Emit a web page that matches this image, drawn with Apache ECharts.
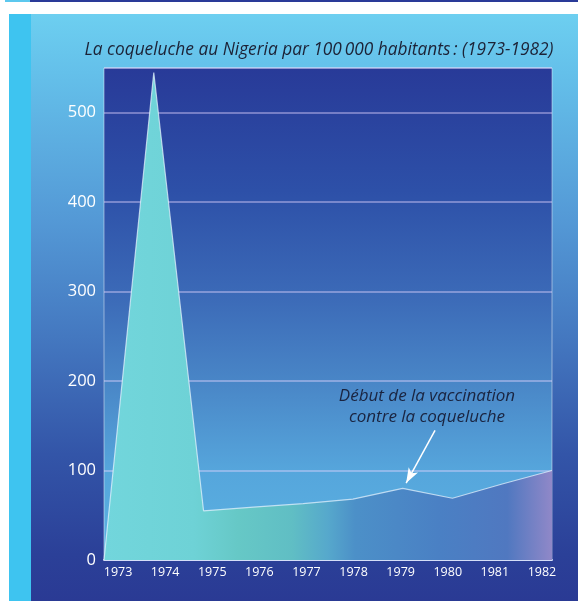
<!DOCTYPE html>
<html>
<head>
<meta charset="utf-8">
<script src="https://cdn.jsdelivr.net/npm/echarts@6/dist/echarts.min.js"></script>
<style>
html,body{margin:0;padding:0;background:#fff;}
#chart{width:578px;height:601px;}
</style>
</head>
<body>
<div id="chart"></div>
<script>
// ---- data ----
const years = [1973, 1974, 1975, 1976, 1977, 1978, 1979, 1980, 1981, 1982];
const cases = [0, 545, 55, 59, 63, 68, 80, 69, 85, 100];
const yTicks = [0, 100, 200, 300, 400, 500];
const titleText = 'La coqueluche au Nigeria par 100\u2009000 habitants\u2009: (1973-1982)';
const noteText = 'Début de la vaccination\ncontre la coqueluche';
// arrow of the note, in data units [year, value]
const arrowFrom = [1979.65, 145];
const arrowTo = [1979.07, 86];

const seriesData = years.map((y, i) => [y, cases[i]]);

const chart = echarts.init(document.getElementById('chart'), null, {renderer: 'canvas'});

const option = {
  backgroundColor: '#ffffff',
  animation: false,
  graphic: [
    {type: 'rect', shape: {x: 5, y: 0, width: 25, height: 2}, style: {fill: '#5cc8ee'}, z: -10},
    {type: 'rect', shape: {x: 30, y: 0, width: 548, height: 2}, style: {fill: '#2a3a98'}, z: -10},
    {type: 'rect', shape: {x: 9, y: 14, width: 569, height: 587}, z: -10,
      style: {fill: new echarts.graphic.LinearGradient(0, 0, 0, 1, [
        {offset: 0, color: '#6dcff0'},
        {offset: 0.1, color: '#64c0ea'},
        {offset: 0.35, color: '#5499d6'},
        {offset: 0.55, color: '#4478c0'},
        {offset: 0.75, color: '#3355a8'},
        {offset: 0.92, color: '#2b4098'},
        {offset: 1, color: '#2a3a94'}
      ])}},
    {type: 'rect', shape: {x: 9, y: 14, width: 22, height: 587}, style: {fill: '#3ec4f0'}, z: -9},
    {type: 'text', x: 319, y: 50, z: 10,
      style: {text: titleText, fill: '#1c2236', font: 'italic 17.3px "Open Sans"', textAlign: 'center', textVerticalAlign: 'middle'}},
    {type: 'text', x: 427, y: 386, z: 10,
      style: {text: noteText, fill: '#1a2440', font: 'italic 17px "Open Sans"', textAlign: 'center', textVerticalAlign: 'top', lineHeight: 21}}
  ],
  grid: [
    {left: 104, right: 26, top: 68, bottom: 41, show: true,
      borderColor: 'rgba(255,255,255,0.45)', borderWidth: 1,
      backgroundColor: new echarts.graphic.LinearGradient(0, 0, 0, 1, [
        {offset: 0, color: '#283a98'},
        {offset: 0.25, color: '#2d50a8'},
        {offset: 0.47, color: '#3c6bb8'},
        {offset: 0.65, color: '#4a88c8'},
        {offset: 0.82, color: '#56a6dc'},
        {offset: 1, color: '#5ab2e2'}
      ])},
    {left: 94.5, width: 471, top: 68, bottom: 41, show: false}
  ],
  xAxis: [
    {type: 'value', gridIndex: 0, min: years[0], max: years[years.length - 1], interval: 1,
      axisLine: {show: true, onZero: false, lineStyle: {color: 'rgba(225,235,255,0.85)', width: 2}},
      axisTick: {show: false}, axisLabel: {show: false}, splitLine: {show: false}},
    {type: 'category', gridIndex: 1, data: years.map(String), boundaryGap: true,
      axisLine: {show: false}, axisTick: {show: false}, splitLine: {show: false},
      axisLabel: {color: '#ffffff', fontSize: 12.5, fontFamily: 'Open Sans', margin: 6}}
  ],
  yAxis: [
    {type: 'value', gridIndex: 0, min: 0, max: 550, interval: 100,
      axisLine: {show: false}, axisTick: {show: false},
      axisLabel: {color: '#ffffff', fontSize: 16.5, fontFamily: 'Open Sans', margin: 8,
        showMaxLabel: false, verticalAlign: 'middle', padding: [0, 0, 9, 0],
        formatter: v => (yTicks.indexOf(v) >= 0 ? String(v) : '')},
      splitLine: {show: true, lineStyle: {color: 'rgba(230,215,255,0.55)', width: 1.5}}},
    {type: 'value', gridIndex: 1, show: false}
  ],
  series: [
    {type: 'line', xAxisIndex: 0, yAxisIndex: 0, data: seriesData,
      showSymbol: false, silent: true, z: 3,
      lineStyle: {color: 'rgba(235,245,255,0.7)', width: 1.2},
      areaStyle: {opacity: 1, color: new echarts.graphic.LinearGradient(0, 0, 1, 0, [
        {offset: 0, color: '#72d6dc'},
        {offset: 0.2, color: '#6ed2d6'},
        {offset: 0.3, color: '#66c8c6'},
        {offset: 0.42, color: '#60bec4'},
        {offset: 0.5, color: '#56a8cc'},
        {offset: 0.56, color: '#4c90c8'},
        {offset: 0.75, color: '#4a80c4'},
        {offset: 0.9, color: '#5078c0'},
        {offset: 1, color: '#9088c8'}
      ])},
      markLine: {silent: true, symbol: ['none', 'arrow'], symbolSize: [8, 15],
        label: {show: false},
        lineStyle: {color: '#ffffff', width: 1.5, type: 'solid'},
        data: [[{coord: arrowFrom}, {coord: arrowTo}]]}
    }
  ]
};
chart.setOption(option);
</script>
</body>
</html>
